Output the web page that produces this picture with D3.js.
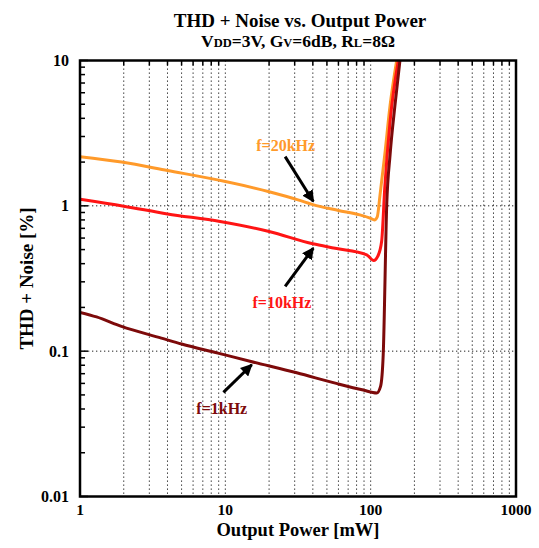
<!DOCTYPE html>
<html>
<head>
<meta charset="utf-8">
<script src="https://cdn.jsdelivr.net/npm/d3@7"></script>
<style>
  body { margin: 0; background: #fff; }
  svg text { font-family: "Liberation Serif", "Times New Roman", serif; font-weight: bold; }
</style>
</head>
<body>
<svg id="chart" width="539" height="548"></svg>
<script>
// values
var power20k = [1, 1.93, 4, 10, 20, 31.6, 40, 60, 84, 100, 106, 111, 116, 125, 136, 151];
var thd20k   = [2.18, 2.0, 1.75, 1.47, 1.25, 1.10, 1.02, 0.93, 0.867, 0.82, 0.80, 0.84, 1.19, 2.24, 4.9, 10];

var power10k = [1, 2, 4, 9.2, 20, 40, 57, 94, 105, 112, 119, 125, 136, 155];
var thd10k   = [1.11, 0.995, 0.88, 0.78, 0.666, 0.548, 0.51, 0.46, 0.42, 0.45, 0.57, 1.33, 3.8, 10];

var power1k = [1, 1.3, 1.93, 3.63, 5, 8.9, 15, 31, 58, 89, 110, 117, 122, 129, 136, 147, 159];
var thd1k   = [0.185, 0.172, 0.148, 0.123, 0.112, 0.097, 0.085, 0.071, 0.060, 0.054, 0.0516, 0.0573, 0.0946, 1.02, 2.24, 4.94, 10];

var xTicks = [1, 10, 100, 1000];
var yTicks = [0.01, 0.1, 1, 10];
var yTickLabels = ["0.01", "0.1", "1", "10"];

var seriesNames = ["f=20kHz", "f=10kHz", "f=1kHz"];
var seriesColors = ["#ff9a2a", "#ff1414", "#7d0a0a"];
// annotation: label anchor, arrow start, arrow tip (data units)
var labelPos = [[26, 2.40], [24.5, 0.198], [9.45, 0.0372]];
var arrowFrom = [[25.8, 2.18], [25.8, 0.279], [9.7, 0.0521]];
var arrowTo = [[40.3, 1.07], [40.3, 0.512], [15.2, 0.0807]];

var series = [
  power20k.map(function(p, i) { return [p, thd20k[i]]; }),
  power10k.map(function(p, i) { return [p, thd10k[i]]; }),
  power1k.map(function(p, i) { return [p, thd1k[i]]; })
];

var margin = {top: 60.5, right: 23, bottom: 51.5, left: 80};
var svg = d3.select("#chart");
var width = 539 - margin.left - margin.right,
    height = 548 - margin.top - margin.bottom;

var g = svg.append("g")
    .attr("transform", "translate(" + margin.left + "," + margin.top + ")");

var x = d3.scaleLog().domain([1, 1000]).range([0, width]);
var y = d3.scaleLog().domain([0.01, 10]).range([height, 0]);

// minor positions for grid and ticks
var xMinor = [], yMinor = [];
[1, 10, 100].forEach(function(d) {
  for (var k = 2; k <= 9; k++) xMinor.push(d * k);
});
[0.01, 0.1, 1].forEach(function(d) {
  for (var k = 2; k <= 9; k++) yMinor.push(d * k);
});

// dotted grid
g.append("g").selectAll("line")
  .data(xMinor.concat([10, 100]))
  .enter().append("line")
    .attr("x1", function(d) { return x(d); })
    .attr("x2", function(d) { return x(d); })
    .attr("y1", 0).attr("y2", height)
    .attr("stroke", "#222")
    .attr("stroke-width", 1)
    .attr("stroke-dasharray", "1.3,2.7");

g.append("g").selectAll("line")
  .data([0.1, 1])
  .enter().append("line")
    .attr("y1", function(d) { return y(d); })
    .attr("y2", function(d) { return y(d); })
    .attr("x1", 0).attr("x2", width)
    .attr("stroke", "#222")
    .attr("stroke-width", 1)
    .attr("stroke-dasharray", "1.3,2.7");

// inward minor ticks
g.append("g").selectAll("line")
  .data(yMinor)
  .enter().append("line")
    .attr("x1", 0).attr("x2", 5)
    .attr("y1", function(d) { return y(d); })
    .attr("y2", function(d) { return y(d); })
    .attr("stroke", "#000").attr("stroke-width", 1.5);

g.append("g").selectAll("line")
  .data(yTicks)
  .enter().append("line")
    .attr("x1", 0).attr("x2", 8)
    .attr("y1", function(d) { return y(d); })
    .attr("y2", function(d) { return y(d); })
    .attr("stroke", "#000").attr("stroke-width", 1.5);

g.append("g").selectAll("line")
  .data(xMinor)
  .enter().append("line")
    .attr("x1", function(d) { return x(d); })
    .attr("x2", function(d) { return x(d); })
    .attr("y1", 0).attr("y2", 5)
    .attr("stroke", "#000").attr("stroke-width", 1.5);

// clip for the curves
g.append("clipPath").attr("id", "clip")
  .append("rect").attr("width", width).attr("height", height);

var line = d3.line()
  .x(function(d) { return x(d[0]); })
  .y(function(d) { return y(d[1]); })
  .curve(d3.curveMonotoneX);

g.append("g").attr("clip-path", "url(#clip)")
  .selectAll("path")
  .data(series)
  .enter().append("path")
    .attr("d", line)
    .attr("fill", "none")
    .attr("stroke", function(d, i) { return seriesColors[i]; })
    .attr("stroke-width", 3)
    .attr("stroke-linejoin", "round");

// frame
g.append("rect")
  .attr("width", width).attr("height", height)
  .attr("fill", "none")
  .attr("stroke", "#000")
  .attr("stroke-width", 2.5);

// tick labels
g.append("g").selectAll("text")
  .data(xTicks)
  .enter().append("text")
    .attr("x", function(d) { return x(d); })
    .attr("y", height + 18)
    .attr("text-anchor", "middle")
    .attr("font-size", 15.5)
    .text(function(d) { return d; });

g.append("g").selectAll("text")
  .data(yTicks)
  .enter().append("text")
    .attr("x", -11)
    .attr("y", function(d) { return y(d); })
    .attr("dy", "0.35em")
    .attr("text-anchor", "end")
    .attr("font-size", 16)
    .text(function(d, i) { return yTickLabels[i]; });

// annotations
var arrowDefs = svg.append("defs");
arrowDefs.append("marker")
  .attr("id", "head")
  .attr("viewBox", "0 0 10 10")
  .attr("refX", 9).attr("refY", 5)
  .attr("markerWidth", 4).attr("markerHeight", 4)
  .attr("markerUnits", "strokeWidth")
  .attr("orient", "auto")
  .append("path")
    .attr("d", "M0,0L10,5L0,10z")
    .attr("fill", "#000");

seriesNames.forEach(function(name, i) {
  g.append("line")
    .attr("x1", x(arrowFrom[i][0])).attr("y1", y(arrowFrom[i][1]))
    .attr("x2", x(arrowTo[i][0])).attr("y2", y(arrowTo[i][1]))
    .attr("stroke", "#000")
    .attr("stroke-width", 3)
    .attr("marker-end", "url(#head)");
  g.append("text")
    .attr("x", x(labelPos[i][0]))
    .attr("y", y(labelPos[i][1]))
    .attr("text-anchor", "middle")
    .attr("font-size", 16)
    .attr("fill", seriesColors[i])
    .text(name);
});

// titles
svg.append("text")
  .attr("x", 300).attr("y", 27)
  .attr("text-anchor", "middle")
  .attr("font-size", 19)
  .text("THD + Noise vs. Output Power");

var sub = svg.append("text")
  .attr("x", 298).attr("y", 47)
  .attr("text-anchor", "middle")
  .attr("font-size", 17.5);
sub.append("tspan").text("V");
sub.append("tspan").attr("font-size", 12.5).text("DD");
sub.append("tspan").text("=3V, G");
sub.append("tspan").attr("font-size", 12.5).text("V");
sub.append("tspan").text("=6dB, R");
sub.append("tspan").attr("font-size", 12.5).text("L");
sub.append("tspan").text("=8Ω");

svg.append("text")
  .attr("x", margin.left + width / 2)
  .attr("y", 536)
  .attr("text-anchor", "middle")
  .attr("font-size", 18.5)
  .text("Output Power [mW]");

svg.append("text")
  .attr("transform", "translate(33," + (margin.top + height / 2) + ") rotate(-90)")
  .attr("text-anchor", "middle")
  .attr("font-size", 19)
  .text("THD + Noise [%]");
</script>
</body>
</html>
